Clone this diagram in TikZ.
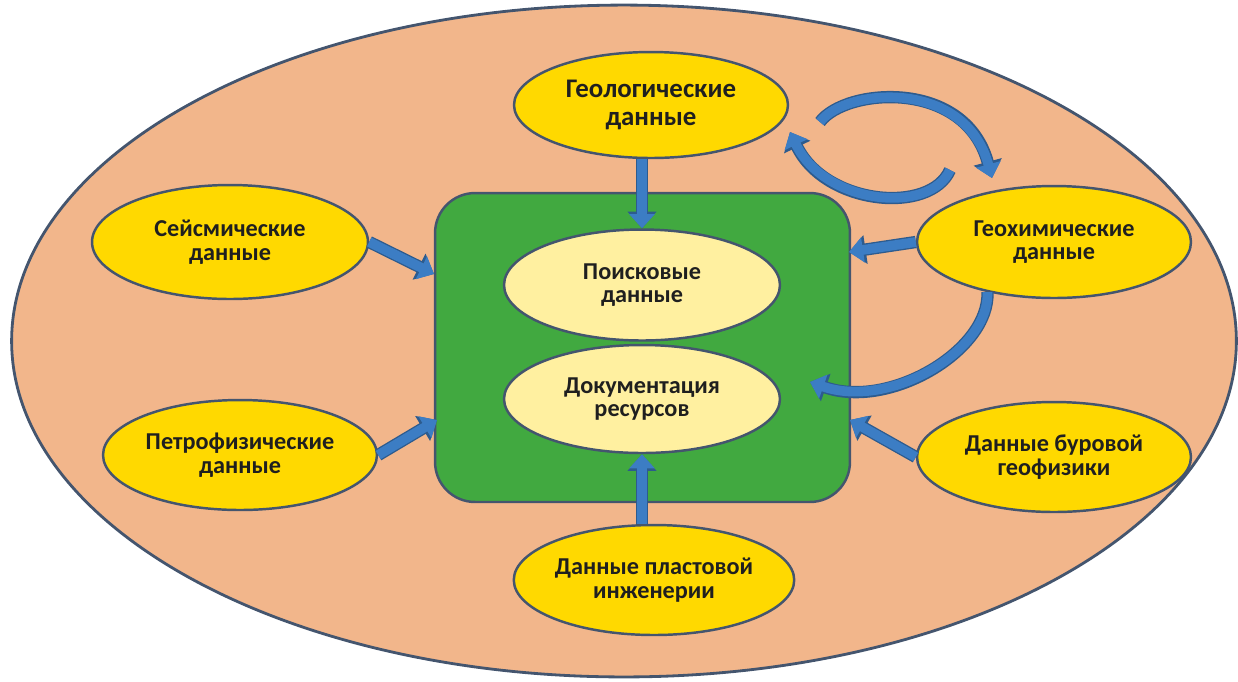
\documentclass[tikz,border=0pt]{standalone}
\usepackage{fontspec}
\setmainfont{Carlito}
\usetikzlibrary{shapes.geometric,arrows.meta}
\definecolor{peach}{HTML}{F2B68B}
\definecolor{edge}{HTML}{44556E}
\definecolor{grn}{HTML}{41A940}
\definecolor{yel}{HTML}{FFD900}
\definecolor{lyel}{HTML}{FFF0A0}
\definecolor{arrblue}{HTML}{3C7DC4}
\definecolor{arredge}{HTML}{2D5B8E}
\tikzset{
  txt/.style={font=\fontsize{13.8}{13.5}\selectfont\bfseries, text=black!88, align=center, inner sep=0pt},
  outer/.style={ellipse, draw=edge, line width=1.4pt, fill=yel, minimum width=5.5cm, minimum height=2.2cm, txt},
  innerell/.style={ellipse, draw=edge, line width=1.4pt, fill=lyel, minimum width=5.5cm, minimum height=2.2cm, txt},
  barrow/.style={draw=arrblue, line width=5.5pt, -{Triangle[width=14pt,length=8pt]},
    preaction={draw=arredge, line width=7pt, -{Triangle[width=16pt,length=9.5pt]}}},
  carrow/.style={draw=arrblue, line width=5.5pt, -{Triangle[width=14pt,length=8pt]},
    preaction={draw=arredge, line width=7pt, -{Triangle[width=16pt,length=9.5pt]}}},
}
\begin{document}
\begin{tikzpicture}[x=0.02cm,y=-0.02cm]
\useasboundingbox (0,0) rectangle (1238,681);
\node[ellipse, draw=edge, line width=1.6pt, fill=peach, minimum width=24.5cm, minimum height=13.44cm, inner sep=0pt] (bg) at (624,341) {};
\node[draw=edge, line width=1.4pt, fill=grn, rounded corners=0.8cm, minimum width=8.3cm, minimum height=6.18cm, inner sep=0pt] (green) at (642.5,347.5) {};
\node[innerell, minimum width=5.52cm, minimum height=2.22cm] (search) at (642,285) {Поисковые\\данные};
\node[innerell, minimum width=5.52cm, minimum height=2.16cm] (doc) at (642,399) {Документация\\ресурсов};
\node[outer, minimum width=5.48cm, minimum height=2.12cm, font=\fontsize{15.3}{15.5}\selectfont\bfseries] (geo) at (651,105) {Геологические\\данные};
\node[outer, minimum width=5.52cm, minimum height=2.28cm] (seis) at (230,242) {Сейсмические\\данные};
\node[outer, minimum width=5.48cm, minimum height=2.2cm] (petro) at (240,455) {Петрофизические\\данные};
\node[outer, minimum width=5.48cm, minimum height=2.24cm] (geochem) at (1054,242) {Геохимические\\данные};
\node[outer, minimum width=5.48cm, minimum height=2.2cm] (bore) at (1054,457) {Данные буровой\\геофизики};
\node[outer, minimum width=5.56cm, minimum height=2.2cm] (plast) at (654,580) {Данные пластовой\\инженерии};
% arrow end points on the green box
\coordinate (tseis) at (434,274);
\coordinate (tpetro) at (437,420);
\coordinate (tgeochem) at (849,252);
\coordinate (tbore) at (850,420);
% straight arrows
\draw[barrow] (geo.south -| search.north) -- (search.north);
\draw[barrow] (plast.north -| doc.south) -- (doc.south);
\draw[barrow] (seis.east) -- (tseis);
\draw[barrow] (petro.east) -- (tpetro);
\draw[barrow] (geochem.west) -- (tgeochem);
\draw[barrow] (bore.west) -- (tbore);
% cycle arrows
\coordinate (c1s) at (820,122);
\coordinate (c1e) at (992,178);
\coordinate (c2s) at (950,170);
\coordinate (c2e) at (790,132);
\coordinate (rtip) at (810,382);
\draw[carrow] (c1s) .. controls (845,88) and (965,78) .. (c1e);
\draw[carrow] (c2s) .. controls (930,215) and (825,205) .. (c2e);
\draw[carrow] (geochem.217) .. controls (990,350) and (890,410) .. (rtip);
\end{tikzpicture}
\end{document}
